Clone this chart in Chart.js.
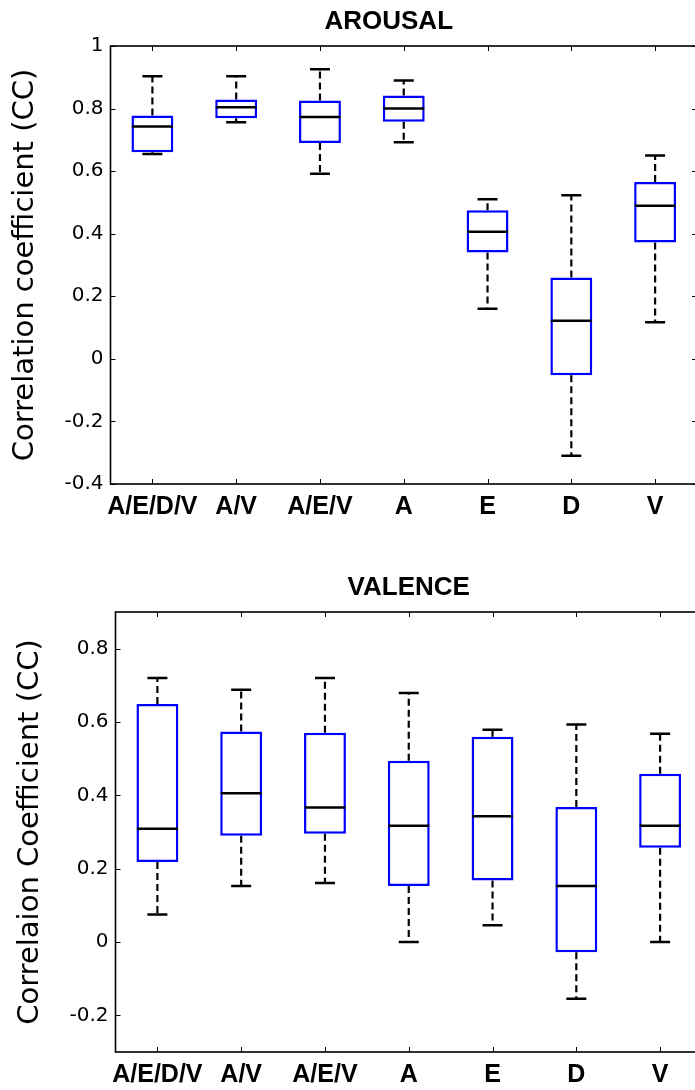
<!DOCTYPE html>
<html><head><meta charset="utf-8">
<script src="https://cdn.jsdelivr.net/npm/chart.js@4.4.1/dist/chart.umd.min.js"></script>
<style>
html,body{margin:0;padding:0;background:#fff;overflow:hidden;width:695px;height:1090px;position:relative;}
#c1{position:absolute;left:0;top:0;}
#c2{position:absolute;left:0;top:545px;}
</style></head><body>
<canvas id="c1" width="700" height="545"></canvas>
<canvas id="c2" width="705" height="545"></canvas>
<script>
const categories = ['A/E/D/V', 'A/V', 'A/E/V', 'A', 'E', 'D', 'V'];

// AROUSAL (top panel)
const arousalMin    = [0.655, 0.756, 0.592, 0.692, 0.160, -0.310, 0.117];
const arousalQ1     = [0.660, 0.769, 0.690, 0.758, 0.340, -0.052, 0.372];
const arousalMedian = [0.743, 0.804, 0.773, 0.800, 0.406,  0.122, 0.489];
const arousalQ3     = [0.778, 0.829, 0.826, 0.842, 0.475,  0.260, 0.565];
const arousalMax    = [0.903, 0.903, 0.926, 0.890, 0.510,  0.523, 0.650];
const arousalTicks      = [-0.4, -0.2, 0, 0.2, 0.4, 0.6, 0.8, 1];
const arousalTickLabels = ['-0.4', '-0.2', '0', '0.2', '0.4', '0.6', '0.8', '1'];

// VALENCE (bottom panel)
const valenceMin    = [0.075, 0.153, 0.161, 0.000, 0.046, -0.155, 0.000];
const valenceQ1     = [0.218, 0.290, 0.295, 0.153, 0.168, -0.028, 0.257];
const valenceMedian = [0.309, 0.406, 0.367, 0.317, 0.343,  0.153, 0.317];
const valenceQ3     = [0.649, 0.574, 0.571, 0.494, 0.560,  0.368, 0.459];
const valenceMax    = [0.720, 0.688, 0.720, 0.679, 0.579,  0.593, 0.568];
const valenceTicks      = [-0.2, 0, 0.2, 0.4, 0.6, 0.8];
const valenceTickLabels = ['-0.2', '0', '0.2', '0.4', '0.6', '0.8'];

const framePlugin = {
  id: 'matlabFrame',
  afterLayout(chart, args, opts) {
    if (chart.titleBlock && opts.titleShift) {
      chart.titleBlock.left += opts.titleShift;
      chart.titleBlock.right += opts.titleShift;
    }
  },
  afterDraw(chart) {
    const {ctx, chartArea: a, scales} = chart;
    ctx.save();
    ctx.strokeStyle = '#000';
    ctx.lineWidth = 1;
    const tl = 5;
    scales.y.ticks.forEach(t => {
      const py = Math.round(scales.y.getPixelForValue(t.value)) + 0.5;
      ctx.beginPath();
      ctx.moveTo(a.left, py); ctx.lineTo(a.left + tl, py);
      ctx.moveTo(a.right, py); ctx.lineTo(a.right - tl, py);
      ctx.stroke();
    });
    scales.x.ticks.forEach((t, i) => {
      const px = Math.round(scales.x.getPixelForTick(i)) + 0.5;
      ctx.beginPath();
      ctx.moveTo(px, a.bottom); ctx.lineTo(px, a.bottom - tl);
      ctx.moveTo(px, a.top); ctx.lineTo(px, a.top + tl);
      ctx.stroke();
    });
    ctx.lineWidth = 1.6;
    ctx.strokeRect(a.left, a.top, a.right - a.left, a.bottom - a.top);
    ctx.restore();
  }
};

function makeBoxChart(canvasId, p) {
  const whiskers = [];
  const caps = [];
  const medians = [];
  categories.forEach((c, i) => {
    whiskers.push({x: c, y: p.q3[i]}, {x: c, y: p.max[i]}, {x: c, y: null},
                  {x: c, y: p.q1[i]}, {x: c, y: p.min[i]}, {x: c, y: null});
    caps.push({x: c, y: p.max[i]}, {x: c, y: p.min[i]});
    medians.push({x: c, y: p.median[i]});
  });
  return new Chart(document.getElementById(canvasId), {
    type: 'bar',
    data: {
      labels: categories,
      datasets: [
        {
          type: 'line', label: 'median', data: medians, showLine: false,
          pointStyle: 'line', pointRadius: 20.5, pointHoverRadius: 20.5,
          pointBorderWidth: 2.5, pointBorderColor: '#000', borderColor: '#000', order: 0
        },
        {
          type: 'bar', label: 'box', data: p.q1.map((v, i) => [v, p.q3[i]]),
          backgroundColor: '#ffffff', borderColor: '#0000ff', borderWidth: 2.5,
          borderSkipped: false, barPercentage: 0.5, categoryPercentage: 1, order: 1
        },
        {
          type: 'line', label: 'caps', data: caps, showLine: false,
          pointStyle: 'line', pointRadius: 10, pointHoverRadius: 10,
          pointBorderWidth: 2.5, pointBorderColor: '#000', borderColor: '#000', order: 2
        },
        {
          type: 'line', label: 'whiskers', data: whiskers, spanGaps: false,
          borderColor: '#000', borderWidth: 2.2, borderDash: [7, 4],
          pointRadius: 0, pointHoverRadius: 0, fill: false, order: 3
        }
      ]
    },
    options: {
      responsive: false,
      maintainAspectRatio: false,
      animation: false,
      events: [],
      layout: {padding: {left: 0, right: 3, top: 0, bottom: 0}},
      plugins: {
        legend: {display: false},
        tooltip: {enabled: false},
        title: {
          display: true, text: p.title, color: '#000', fullSize: false,
          font: {family: 'Liberation Sans', weight: 'bold', size: 26},
          padding: p.titlePadding
        },
        matlabFrame: {titleShift: p.titleShift}
      },
      scales: {
        x: {
          type: 'category', offset: true,
          grid: {display: false, drawTicks: false}, border: {display: false},
          ticks: {
            color: '#000', padding: 8, maxRotation: 0, autoSkip: false,
            font: {family: 'Liberation Sans', weight: 'bold', size: 25}
          },
          afterFit: s => { s.height = p.xHeight; s.paddingLeft = 0; s.paddingRight = 0; }
        },
        y: {
          min: p.yMin, max: p.yMax,
          grid: {display: false, drawTicks: false}, border: {display: false},
          afterBuildTicks: s => { s.ticks = p.ticks.map(v => ({value: v})); },
          ticks: {
            color: '#000', padding: 7,
            font: {family: 'DejaVu Sans', size: 20},
            callback: v => p.tickLabels[p.ticks.findIndex(t => Math.abs(t - v) < 1e-9)]
          },
          title: {
            display: true, text: p.yTitle, color: '#000',
            font: {family: 'DejaVu Sans', size: 29},
            padding: {top: p.yTitlePad, bottom: 0}
          },
          afterFit: s => { s.width = p.yWidth; }
        }
      }
    },
    plugins: [framePlugin]
  });
}

// build a panel; if the library reserved extra room on the right, widen the canvas so the
// plot frame ends where the reference's frame ends
function buildPanel(id, p, width, targetRight) {
  const cv = document.getElementById(id);
  const setW = w => { cv.width = w; cv.height = 545; cv.style.width = w + 'px'; cv.style.height = '545px'; };
  setW(width);
  let ch = makeBoxChart(id, p);
  const d = ch.chartArea.right - targetRight;
  if (Math.abs(d) > 0.5) {
    ch.destroy();
    setW(Math.round(width - d));
    ch = makeBoxChart(id, p);
  }
  return ch;
}

buildPanel('c1', {
  title: 'AROUSAL', titlePadding: {top: 6, bottom: 8.8}, titleShift: -15,
  min: arousalMin, q1: arousalQ1, median: arousalMedian, q3: arousalQ3, max: arousalMax,
  ticks: arousalTicks, tickLabels: arousalTickLabels, yMin: -0.4, yMax: 1,
  yTitle: 'Correlation coefficient (CC)', yTitlePad: 8.5, yWidth: 110.5, xHeight: 61
}, 700, 697);

buildPanel('c2', {
  title: 'VALENCE', titlePadding: {top: 27.4, bottom: 8.4}, titleShift: 0,
  min: valenceMin, q1: valenceQ1, median: valenceMedian, q3: valenceQ3, max: valenceMax,
  ticks: valenceTicks, tickLabels: valenceTickLabels, yMin: -0.3, yMax: 0.9,
  yTitle: 'Correlaion Coefficient (CC)', yTitlePad: 13.5, yWidth: 115.5, xHeight: 38
}, 705, 702);
</script>
</body></html>
